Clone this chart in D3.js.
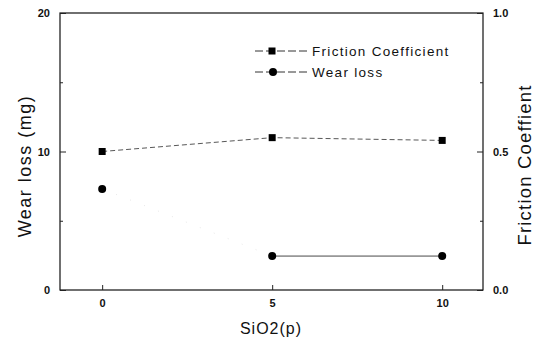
<!DOCTYPE html>
<html><head><meta charset="utf-8">
<script src="https://cdn.jsdelivr.net/npm/d3@7"></script>
<style>body{margin:0;background:#fff}svg{display:block}</style>
</head><body>
<svg id="c" width="542" height="341"></svg>
<script>
const sio2 = [0, 5, 10];
const frictionCoef = [0.50, 0.55, 0.54];
const wearLoss = [7.3, 2.45, 2.45];
const xTicks = [0, 5, 10];
const yLeftTicks = [0, 10, 20];
const yLeftMinor = [5, 15];
const yRightTicks = [0.0, 0.5, 1.0];
const yRightMinor = [0.25, 0.75];

const svg = d3.select("#c");
const L = 60, R = 483, T = 13, B = 290;
const x = d3.scaleLinear().domain([-1.24, 11.2]).range([L, R]);
const yL = d3.scaleLinear().domain([0, 20]).range([B, T]);
const yR = d3.scaleLinear().domain([0, 1]).range([B, T]);
const font = "Liberation Sans, Arial, sans-serif";

// frame
svg.append("rect").attr("x", L).attr("y", T).attr("width", R - L).attr("height", B - T)
  .attr("fill", "none").attr("stroke", "#111").attr("stroke-width", 1.2);

// left axis
svg.append("g").attr("transform", `translate(${L},0)`)
  .call(d3.axisLeft(yL).tickValues(yLeftTicks).tickSize(-6).tickPadding(10).tickFormat(d3.format("d")));
svg.append("g").attr("transform", `translate(${L},0)`)
  .call(d3.axisLeft(yL).tickValues(yLeftMinor).tickSize(-3).tickFormat(""));
// right axis
svg.append("g").attr("transform", `translate(${R},0)`)
  .call(d3.axisRight(yR).tickValues(yRightTicks).tickSize(-6).tickPadding(10).tickFormat(d3.format(".1f")));
svg.append("g").attr("transform", `translate(${R},0)`)
  .call(d3.axisRight(yR).tickValues(yRightMinor).tickSize(-3).tickFormat(""));
// bottom axis
svg.append("g").attr("transform", `translate(0,${B})`)
  .call(d3.axisBottom(x).tickValues(xTicks).tickSize(-5).tickPadding(9).tickFormat(d3.format("d")));

svg.selectAll(".domain").remove();
svg.selectAll(".tick line").attr("stroke", "#222");
svg.selectAll(".tick text").attr("font-family", font).attr("font-size", 11).attr("fill", "#111").attr("font-weight", "bold");

// friction line
const fl = d3.line().x((d, i) => x(sio2[i])).y(d => yR(d));
svg.append("path").datum(frictionCoef).attr("d", fl).attr("fill", "none")
  .attr("stroke", "#444").attr("stroke-width", 0.9).attr("stroke-dasharray", "5,3");
// wear line
const wl = d3.line().x((d, i) => x(sio2[i])).y(d => yL(d));
svg.append("path").datum(wearLoss.slice(0, 2)).attr("d", wl).attr("fill", "none")
  .attr("stroke", "#bbb").attr("stroke-width", 0.6).attr("stroke-dasharray", "1,14").attr("opacity", 0.6);
svg.append("path").datum(wearLoss.slice(1)).attr("d", d3.line().x((d, i) => x(sio2[i + 1])).y(d => yL(d)))
  .attr("fill", "none").attr("stroke", "#333").attr("stroke-width", 0.9);

// markers
svg.selectAll(".sq").data(frictionCoef).join("rect")
  .attr("x", (d, i) => x(sio2[i]) - 3.5).attr("y", d => yR(d) - 3.5)
  .attr("width", 7).attr("height", 7).attr("fill", "#000");
svg.selectAll(".ci").data(wearLoss).join("circle")
  .attr("cx", (d, i) => x(sio2[i])).attr("cy", d => yL(d)).attr("r", 4).attr("fill", "#000");

// legend
const lg = svg.append("g");
const legendItems = [
  {label: "Friction Coefficient", shape: "square", y: 51},
  {label: "Wear  loss", shape: "circle", y: 72}
];
legendItems.forEach(it => {
  lg.append("line").attr("x1", 255).attr("x2", 308).attr("y1", it.y).attr("y2", it.y)
    .attr("stroke", "#333").attr("stroke-width", 1).attr("stroke-dasharray", "8,3");
  if (it.shape === "square")
    lg.append("rect").attr("x", 268.5).attr("y", it.y - 3.5).attr("width", 7).attr("height", 7).attr("fill", "#000");
  else
    lg.append("circle").attr("cx", 273).attr("cy", it.y).attr("r", 4).attr("fill", "#000");
  lg.append("text").attr("x", 312).attr("y", it.y + 5).text(it.label)
    .attr("font-family", font).attr("font-size", 13.5).attr("letter-spacing", 1.3).attr("fill", "#111");
});

// axis titles
svg.append("text").attr("transform", `translate(31,166) rotate(-90)`)
  .attr("text-anchor", "middle").attr("font-family", font).attr("font-size", 18).attr("letter-spacing", 1.5)
  .attr("fill", "#111").text("Wear  loss (mg)");
svg.append("text").attr("transform", `translate(531,165) rotate(-90)`)
  .attr("text-anchor", "middle").attr("font-family", font).attr("font-size", 18.5).attr("letter-spacing", 1.2)
  .attr("fill", "#111").text("Friction Coeffient");
svg.append("text").attr("x", 271).attr("y", 334)
  .attr("text-anchor", "middle").attr("font-family", font).attr("font-size", 16).attr("letter-spacing", 1)
  .attr("fill", "#111").text("SiO2(p)");
</script>
</body></html>
